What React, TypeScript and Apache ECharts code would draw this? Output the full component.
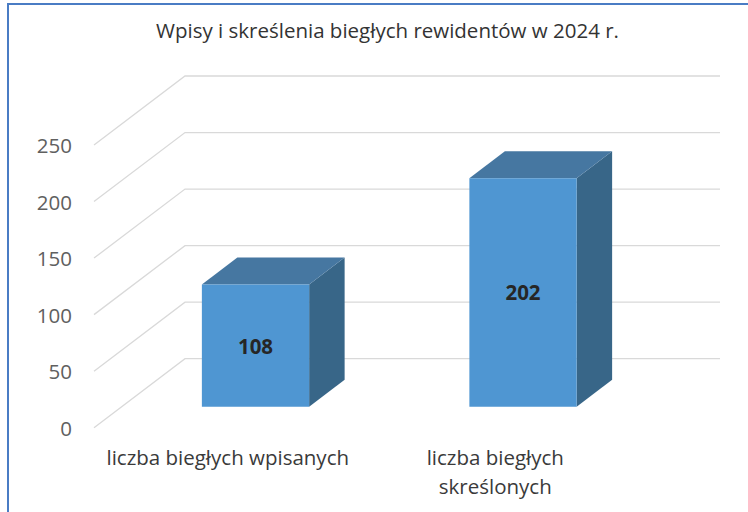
import React, { useEffect, useRef } from "react";
import * as echarts from "echarts";

const titleText = "Wpisy i skreślenia biegłych rewidentów w 2024 r.";
const categories = ["liczba biegłych wpisanych", "liczba biegłych\nskreślonych"];
const values = [108, 202];
const yTicks = [0, 50, 100, 150, 200, 250];

// projection of the 3D depth (pixels)
const DEPTH_X = 91;
const DEPTH_Y = 69;
const BAR_FRONT = 0.305;
const BAR_BACK = 0.695;
const FONT = "'Open Sans', sans-serif";

export default function App() {
  const ref = useRef<HTMLDivElement>(null);
  useEffect(() => {
    if (!ref.current) return;
    const chart = echarts.init(ref.current, undefined, { renderer: "svg" });
    chart.setOption({
      animation: false,
      backgroundColor: "#ffffff",
      title: {
        text: titleText,
        left: 151,
        top: 14,
        textStyle: { fontFamily: FONT, fontSize: 20.5, fontWeight: "normal", color: "#333333" },
      },
      graphic: [
        {
          type: "rect",
          shape: { x: 8, y: 4, width: 780, height: 540 },
          style: { fill: "none", stroke: "#4a7cc4", lineWidth: 2 },
          silent: true,
        },
      ],
      grid: { left: 94, right: 119, top: 145, bottom: 84.3 },
      xAxis: {
        type: "category",
        data: categories,
        axisLine: { show: false },
        axisTick: { show: false },
        axisLabel: {
          margin: 15,
          fontFamily: FONT,
          fontSize: 20.5,
          lineHeight: 29,
          color: "#3a3a3a",
          interval: 0,
        },
      },
      yAxis: {
        type: "value",
        min: 0,
        max: 250,
        interval: 50,
        axisLine: { show: false },
        axisTick: { show: false },
        splitLine: { show: false },
        axisLabel: { margin: 22, fontFamily: FONT, fontSize: 20.5, color: "#606060" },
      },
      series: [
        {
          type: "custom",
          z: 1,
          silent: true,
          data: yTicks.map((v) => [0, v]),
          renderItem: (params: any, api: any) => {
            const v = api.value(1);
            const p = api.coord([0, v]);
            const cs = params.coordSys;
            const x0 = cs.x;
            const x1 = cs.x + cs.width;
            const y = p[1];
            return {
              type: "polyline",
              shape: {
                points: [
                  [x0, y],
                  [x0 + DEPTH_X, y - DEPTH_Y],
                  [x1 + DEPTH_X, y - DEPTH_Y],
                ],
              },
              style: { stroke: "#d9d9d9", lineWidth: 1.3, fill: null },
            };
          },
        },
        {
          type: "custom",
          z: 2,
          data: values.map((v, i) => [i, v]),
          renderItem: (params: any, api: any) => {
            const i = api.value(0);
            const v = api.value(1);
            const top = api.coord([i, v]);
            const base = api.coord([i, 0]);
            const band = api.size([1, 0])[0];
            const w = band * 0.401;
            const ox = DEPTH_X * BAR_FRONT;
            const oy = DEPTH_Y * BAR_FRONT;
            const bx = DEPTH_X * (BAR_BACK - BAR_FRONT);
            const by = DEPTH_Y * (BAR_BACK - BAR_FRONT);
            const fx0 = top[0] + ox - w / 2;
            const fx1 = fx0 + w;
            const fy0 = top[1] - oy;
            const fy1 = base[1] - oy;
            return {
              type: "group",
              children: [
                {
                  type: "polygon",
                  shape: {
                    points: [
                      [fx1, fy0],
                      [fx1 + bx, fy0 - by],
                      [fx1 + bx, fy1 - by],
                      [fx1, fy1],
                    ],
                  },
                  style: { fill: "#386688" },
                },
                {
                  type: "polygon",
                  shape: {
                    points: [
                      [fx0, fy0],
                      [fx0 + bx, fy0 - by],
                      [fx1 + bx, fy0 - by],
                      [fx1, fy0],
                    ],
                  },
                  style: { fill: "#4677a1" },
                },
                {
                  type: "rect",
                  shape: { x: fx0, y: fy0, width: w, height: fy1 - fy0 },
                  style: { fill: "#4f96d2" },
                },
                {
                  type: "text",
                  style: {
                    text: String(v),
                    x: (fx0 + fx1) / 2,
                    y: (fy0 + fy1) / 2,
                    align: "center",
                    verticalAlign: "middle",
                    fontFamily: FONT,
                    fontSize: 20.5,
                    fontWeight: "bold",
                    fill: "#262626",
                  },
                },
              ],
            };
          },
        },
      ],
    });
    return () => chart.dispose();
  }, []);
  return (
    <div
      ref={ref}
      style={{ position: "fixed", left: 0, top: 0, width: 748, height: 512 }}
    />
  );
}
